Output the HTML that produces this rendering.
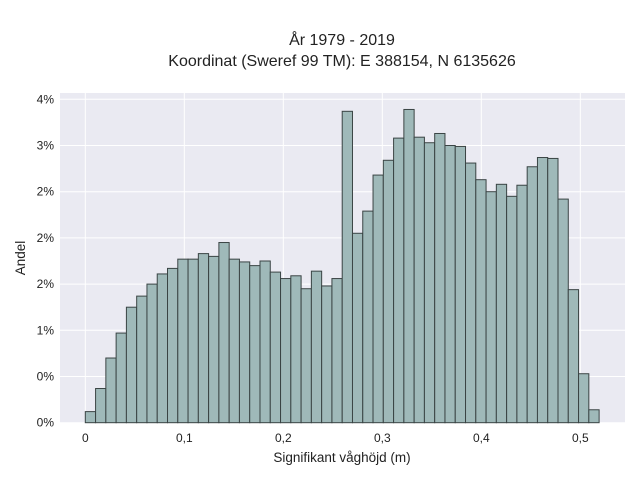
<!DOCTYPE html>
<html><head><meta charset="utf-8"><style>
body{margin:0;background:#fff;}
svg text{font-family:"Liberation Sans",sans-serif;fill:#222;}
</style></head><body>
<svg id="chart" width="640" height="480" xmlns="http://www.w3.org/2000/svg">
<text x="342" y="45" text-anchor="middle" font-size="16">År 1979 - 2019</text>
<text x="342" y="66" text-anchor="middle" font-size="16">Koordinat (Sweref 99 TM): E 388154, N 6135626</text>
<rect x="60" y="93" width="565" height="330" fill="#eaeaf2"/>
<g id="grid"></g><g id="bars"></g><g id="ticks"></g>
<text x="342" y="462" text-anchor="middle" font-size="13.5">Signifikant våghöjd (m)</text>
<text transform="translate(25,258) rotate(-90)" text-anchor="middle" font-size="13.5">Andel</text>
</svg>
<script>
const binWidth = 0.01038;
const values = [0.12,0.37,0.70,0.97,1.25,1.37,1.50,1.61,1.67,1.77,1.77,1.83,1.80,1.95,1.77,1.74,1.70,1.75,1.63,1.56,1.59,1.45,1.64,1.48,1.56,3.37,2.05,2.29,2.68,2.84,3.08,3.39,3.09,3.03,3.13,3.00,2.99,2.81,2.63,2.50,2.58,2.45,2.57,2.77,2.87,2.86,2.42,1.44,0.53,0.14];
const xTicks = [0,0.1,0.2,0.3,0.4,0.5];
const xTickLabels = ["0","0,1","0,2","0,3","0,4","0,5"];
const yTicks = [0,0.5,1,1.5,2,2.5,3,3.5];
const yTickLabels = ["0%","0%","1%","2%","2%","2%","3%","4%"];
const NS="http://www.w3.org/2000/svg";
const X = v => 85.3 + v*990;
const Y = v => 422.7 - v*92.4;
const grid=document.getElementById('grid'),bars=document.getElementById('bars'),ticks=document.getElementById('ticks');
function mk(tag,attrs,parent){const e=document.createElementNS(NS,tag);for(const k in attrs)e.setAttribute(k,attrs[k]);parent.appendChild(e);return e;}
xTicks.forEach((t,i)=>{
  const l=mk('line',{x1:X(t),x2:X(t),y1:93,y2:423,stroke:'#fff','stroke-width':1},grid);
  
  
  const tx=mk('text',{x:X(t),y:442,'text-anchor':'middle','font-size':12},ticks);
  tx.textContent=xTickLabels[i];
  
  
});
yTicks.forEach((t,i)=>{
  const l=mk('line',{x1:60,x2:625,y1:Y(t),y2:Y(t),stroke:'#fff','stroke-width':1},grid);
  
  
  const tx=mk('text',{x:54,y:Y(t)+4,'text-anchor':'end','font-size':12},ticks);
  tx.textContent=yTickLabels[i];
  
  
});
values.forEach((v,i)=>{
  const x0=X(i*binWidth),x1=X((i+1)*binWidth);
  const r=mk('rect',{x:x0,y:Y(v),width:x1-x0,height:Y(0)-Y(v),fill:'#9fb9b9',stroke:'#3a4444','stroke-width':1},bars);
  
  
});
</script>
</body></html>
